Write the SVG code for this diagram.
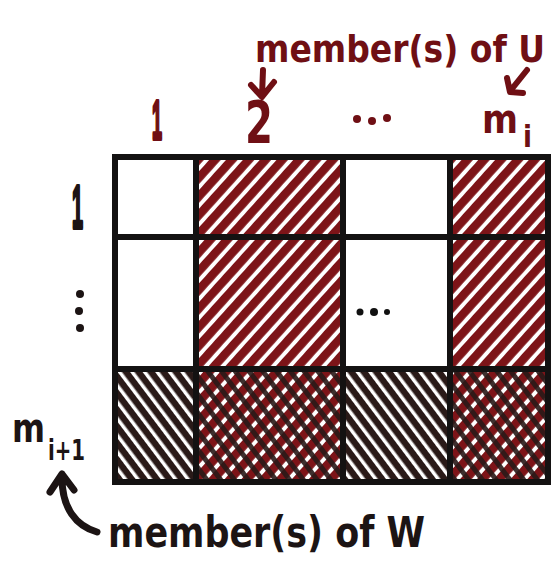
<svg xmlns="http://www.w3.org/2000/svg" width="554" height="564" viewBox="0 0 554 564">
<style>
.red{fill:#6f0f14;font-family:"DejaVu Sans Condensed","DejaVu Sans",sans-serif;font-weight:bold}
.blk{fill:#1c1414;font-family:"DejaVu Sans Condensed","DejaVu Sans",sans-serif;font-weight:bold}
.one{font-family:"Liberation Sans",Arial,sans-serif;font-weight:bold;stroke-width:4;stroke-linejoin:round}
.grid{stroke:#141212;stroke-width:6;fill:none;stroke-linecap:square}
.rarrow{stroke:#6f0f14;stroke-width:6;fill:none;stroke-linecap:round;stroke-linejoin:round}
.barrow{stroke:#1c1414;stroke-width:7;fill:none;stroke-linecap:round;stroke-linejoin:round}
</style>
<defs>
<pattern id="redHatch" patternUnits="userSpaceOnUse" width="12.5" height="12.5" patternTransform="rotate(-48)">
<rect x="0" y="0" width="12.5" height="8.5" fill="#7d1418"/>
</pattern>
<pattern id="blkHatch" patternUnits="userSpaceOnUse" width="10" height="10" patternTransform="rotate(53)">
<rect x="0" y="0" width="10" height="6.5" fill="#2a1a18"/>
</pattern>
<pattern id="blkHatchThin" patternUnits="userSpaceOnUse" width="11" height="11" patternTransform="rotate(53)">
<rect x="0" y="0" width="11" height="5" fill="#2a1a18" fill-opacity="0.9"/>
</pattern>
</defs>
<rect width="554" height="564" fill="#ffffff"/>

<g id="cells">
<g id="cell-r1c2"><rect x="196" y="157" width="147" height="80" fill="url(#redHatch)"/></g>
<g id="cell-r1c4"><rect x="450" y="157" width="98" height="80" fill="url(#redHatch)"/></g>
<g id="cell-r2c2"><rect x="196" y="237" width="147" height="132" fill="url(#redHatch)"/></g>
<g id="cell-r2c4"><rect x="450" y="237" width="98" height="132" fill="url(#redHatch)"/></g>
<g id="cell-r3c1"><rect x="115" y="369" width="81" height="113" fill="url(#blkHatch)"/></g>
<g id="cell-r3c2"><rect x="196" y="369" width="147" height="113" fill="url(#redHatch)"/><rect x="196" y="369" width="147" height="113" fill="url(#blkHatchThin)"/></g>
<g id="cell-r3c3"><rect x="343" y="369" width="107" height="113" fill="url(#blkHatch)"/></g>
<g id="cell-r3c4"><rect x="450" y="369" width="98" height="113" fill="url(#redHatch)"/><rect x="450" y="369" width="98" height="113" fill="url(#blkHatchThin)"/></g>
</g>

<g id="grid">
<rect class="grid" x="115" y="157" width="433" height="325"/>
<line class="grid" x1="196" y1="157" x2="196" y2="482"/>
<line class="grid" x1="343" y1="157" x2="343" y2="482"/>
<line class="grid" x1="450" y1="157" x2="450" y2="482"/>
<line class="grid" x1="115" y1="237" x2="548" y2="237"/>
<line class="grid" x1="115" y1="369" x2="548" y2="369"/>
</g>

<g id="cell-dots" fill="#111">
<circle cx="360" cy="312" r="3.5"/>
<circle cx="374" cy="312" r="4"/>
<circle cx="387" cy="312" r="3"/>
</g>

<g id="col-labels">
<text class="red one" x="152" y="139" font-size="56" stroke="#6f0f14" textLength="10" lengthAdjust="spacingAndGlyphs">1</text>
<text class="red" x="245" y="143" font-size="59" textLength="28" lengthAdjust="spacingAndGlyphs">2</text>
<g fill="#6f0f14"><circle cx="357" cy="119" r="4"/><circle cx="372" cy="121" r="4"/><circle cx="387" cy="118" r="4"/></g>
<text class="red" x="482" y="133" font-size="40" textLength="36" lengthAdjust="spacingAndGlyphs">m</text>
<text class="red" x="523" y="147" font-size="30" textLength="9" lengthAdjust="spacingAndGlyphs">i</text>
</g>

<g id="row-labels">
<text class="blk one" x="72" y="228" font-size="62" stroke="#1c1414" textLength="11" lengthAdjust="spacingAndGlyphs">1</text>
<g fill="#1c1414"><circle cx="80" cy="294" r="4"/><circle cx="79" cy="311" r="4"/><circle cx="80" cy="328" r="4"/></g>
<text class="blk" x="12" y="442" font-size="40" textLength="33" lengthAdjust="spacingAndGlyphs">m</text>
<text class="blk" x="48" y="460" font-size="28" textLength="37" lengthAdjust="spacingAndGlyphs">i+1</text>
</g>

<g id="label-U">
<text class="red" x="255" y="62" font-size="38" textLength="290" lengthAdjust="spacingAndGlyphs">member(s) of U</text>
</g>
<g id="label-W">
<text class="blk" x="108" y="547" font-size="43" textLength="317" lengthAdjust="spacingAndGlyphs">member(s) of W</text>
</g>

<g id="connectors">
<path class="rarrow" d="M263 70 L262 96 M251 85 L262 97 L274 82"/>
<path class="rarrow" d="M527 70 L511 90 M507 78 L510 92 L523 93"/>
<path class="barrow" d="M97 532 C76 526 62 508 62 478 M50 492 L62 474 L74 490"/>
</g>
</svg>
